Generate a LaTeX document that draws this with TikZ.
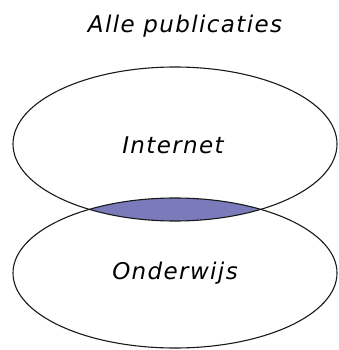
\documentclass[tikz,border=0pt]{standalone}
\usepackage{fontspec}
\setmainfont{DejaVu Sans}
\definecolor{lensfill}{RGB}{123,123,187}
\begin{document}
\begin{tikzpicture}[x=1pt,y=-1pt,
  setline/.style={draw=black!90,line width=1.1pt},
  setlabel/.style={font=\fontsize{23}{26}\selectfont\itshape\addfontfeature{LetterSpace=6}}]
\useasboundingbox (0,0) rectangle (338,350);
% the two sets
\coordinate (ctop) at (175,144);
\coordinate (cbot) at (175,273);
% overlap of both sets
\begin{scope}
  \clip (ctop) ellipse [x radius=162, y radius=77];
  \fill[lensfill] (cbot) ellipse [x radius=162, y radius=75];
\end{scope}
\draw[setline] (ctop) ellipse [x radius=162, y radius=77];
\draw[setline] (cbot) ellipse [x radius=162, y radius=75];
% labels
\node[setlabel] (title) at (185,26) {Alle publicaties};
\node[setlabel] (inet) at (173,145) {Internet};
\node[setlabel] (onder) at (175,273) {Onderwijs};
\end{tikzpicture}
\end{document}
